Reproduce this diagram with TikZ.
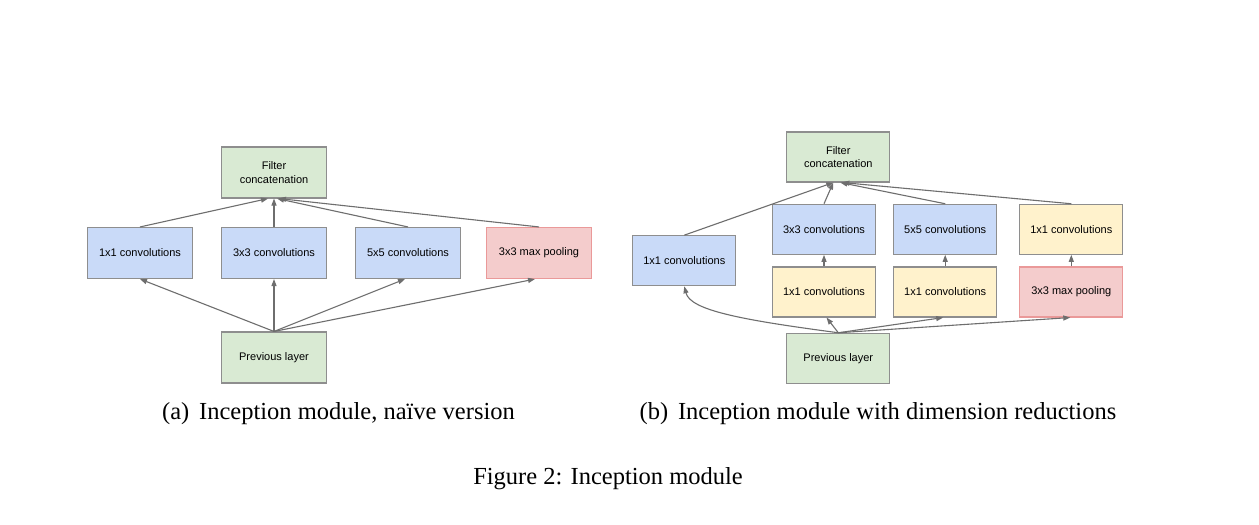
\documentclass[tikz,border=0pt]{standalone}
\usepackage{fontspec}
\setmainfont{Liberation Serif}
\newfontfamily\boxfont{Liberation Sans}
\usetikzlibrary{arrows.meta}
\definecolor{gfill}{HTML}{D9EAD3}
\definecolor{bfill}{HTML}{C9DAF8}
\definecolor{yfill}{HTML}{FFF2CC}
\definecolor{pfill}{HTML}{F4CCCC}
\definecolor{pline}{HTML}{EA9999}
\definecolor{bline}{HTML}{8E8E8E}
\definecolor{aline}{HTML}{6E6E6E}
\tikzset{
  box/.style={draw=bline, line width=1.1pt, rectangle, minimum width=105pt, minimum height=51pt, inner sep=0pt, align=center, font=\boxfont\fontsize{11}{13.3}\selectfont},
  rbox/.style={box, minimum width=103pt, minimum height=50pt},
  green/.style={fill=gfill},
  blue/.style={fill=bfill},
  yellow/.style={fill=yfill},
  pink/.style={fill=pfill, draw=pline},
  arr/.style={draw=aline, line width=1.1pt, -{Triangle[length=7pt,width=5pt]}},
  captext/.style={font=\fontsize{24.5}{28}\selectfont, anchor=base, inner sep=0pt}
}
\begin{document}
\begin{tikzpicture}[x=1pt,y=-1pt]
\path[use as bounding box, fill=white] (0,0) rectangle (1259,525);
% ---------- (a) ----------
\node[box,green] (Lc) at (274,172.5) {Filter\\concatenation};
\node[box,blue] (L1) at (140,253) {1x1 convolutions};
\node[box,blue] (L3) at (274,253) {3x3 convolutions};
\node[box,blue] (L5) at (408,253) {5x5 convolutions};
\node[box,pink] (Lp) at (539,253) {3x3 max pooling};
\node[box,green] (Lprev) at (274,357.5) {Previous layer};
\draw[arr] (L1.north) -- ([xshift=-6pt]Lc.south);
\draw[arr] (L3.north) -- (Lc.south);
\draw[arr] (L5.north) -- ([xshift=3pt]Lc.south);
\draw[arr] (Lp.north) -- ([xshift=5pt]Lc.south);
\draw[arr] (Lprev.north) -- (L1.south);
\draw[arr] (Lprev.north) -- (L3.south);
\draw[arr] (Lprev.north) -- ([xshift=-3pt]L5.south);
\draw[arr] (Lprev.north) -- ([xshift=-4pt]Lp.south);
% ---------- (b) ----------
\node[rbox,green] (Rc) at (838.3,157) {Filter\\concatenation};
\node[rbox,blue] (R1) at (684.3,260.7) {1x1 convolutions};
\node[rbox,blue] (R3) at (824,229.3) {3x3 convolutions};
\node[rbox,blue] (R5) at (945.2,229.3) {5x5 convolutions};
\node[rbox,yellow] (Ry) at (1071.3,229.3) {1x1 convolutions};
\node[rbox,yellow] (Rr3) at (824,292) {1x1 convolutions};
\node[rbox,yellow] (Rr5) at (945.2,292) {1x1 convolutions};
\node[rbox,pink] (Rpool) at (1071.3,292) {3x3 max pooling};
\node[rbox,green] (Rprev) at (838.3,358.3) {Previous layer};
\draw[arr] (R1.north) -- ([xshift=-5pt]Rc.south);
\draw[arr] (R3.north) -- ([xshift=-5pt]Rc.south);
\draw[arr] (R5.north) -- ([xshift=2pt]Rc.south);
\draw[arr] (Ry.north) -- ([xshift=4pt]Rc.south);
\draw[arr] (Rr3.north) -- (R3.south);
\draw[arr] (Rr5.north) -- (R5.south);
\draw[arr] (Rpool.north) -- (Ry.south);
\draw[arr] (Rprev.north) -- ([xshift=2.5pt]Rr3.south);
\draw[arr] (Rprev.north) -- ([xshift=-2pt]Rr5.south);
\draw[arr] (Rprev.north) -- ([xshift=-1pt]Rpool.south);
\draw[arr] (Rprev.north) .. controls +(-98,-13) and +(6,24) .. (R1.south);
% ---------- captions ----------
\node[captext] (capa) at (338.5,419) {(a)\hspace{0.4em}Inception module, na\"ive version};
\node[captext] (capb) at (878,419) {(b)\hspace{0.4em}Inception module with dimension reductions};
\node[captext] (capf) at (608,484) {Figure 2: Inception module};
\end{tikzpicture}
\end{document}
